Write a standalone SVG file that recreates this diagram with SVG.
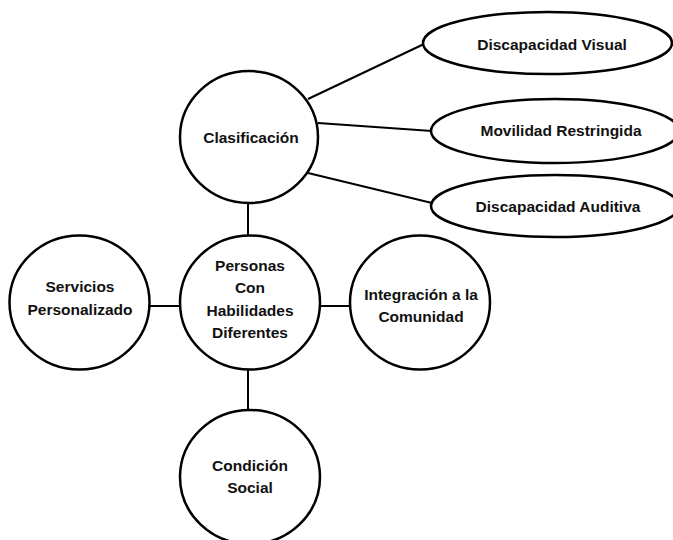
<svg xmlns="http://www.w3.org/2000/svg" width="673" height="540" viewBox="0 0 673 540">
<style>
.n{fill:#fff;stroke:#000;stroke-width:2.5}
.c line{stroke:#000;stroke-width:2}
text{font-family:"Liberation Sans",Arial,sans-serif;font-weight:bold;font-size:15.5px;fill:#111;text-anchor:middle}
</style>
<rect width="673" height="540" fill="#fff"/>
<g id="connectors" class="c">
<line x1="308" y1="99" x2="424" y2="44"/>
<line x1="318" y1="123" x2="432" y2="131"/>
<line x1="308" y1="173" x2="432" y2="203"/>
<line x1="248" y1="203" x2="248" y2="236"/>
<line x1="149" y1="306" x2="181" y2="306"/>
<line x1="319" y1="306" x2="351" y2="306"/>
<line x1="248" y1="369" x2="248" y2="411"/>
</g>
<g id="visual"><ellipse class="n" cx="547.5" cy="43" rx="124.5" ry="31"/><text x="552" y="50">Discapacidad Visual</text></g>
<g id="movilidad"><ellipse class="n" cx="555" cy="131" rx="124" ry="32"/><text x="561" y="136">Movilidad Restringida</text></g>
<g id="auditiva"><ellipse class="n" cx="555" cy="206" rx="124" ry="31"/><text x="558" y="212">Discapacidad Auditiva</text></g>
<g id="clasificacion"><ellipse class="n" cx="249" cy="137" rx="69" ry="66"/><text x="251" y="143">Clasificación</text></g>
<g id="personas"><ellipse class="n" cx="250" cy="302.5" rx="70" ry="67"/><text x="250" y="271">Personas</text><text x="250" y="293">Con</text><text x="250" y="315.5">Habilidades</text><text x="250" y="338">Diferentes</text></g>
<g id="servicios"><ellipse class="n" cx="79.5" cy="302.5" rx="70" ry="67"/><text x="80" y="292">Servicios</text><text x="80" y="315">Personalizado</text></g>
<g id="integracion"><ellipse class="n" cx="420" cy="302.5" rx="70" ry="67"/><text x="421" y="300">Integración a la</text><text x="421" y="322">Comunidad</text></g>
<g id="condicion"><ellipse class="n" cx="250" cy="477" rx="70" ry="67"/><text x="250" y="471">Condición</text><text x="250" y="493">Social</text></g>
</svg>
